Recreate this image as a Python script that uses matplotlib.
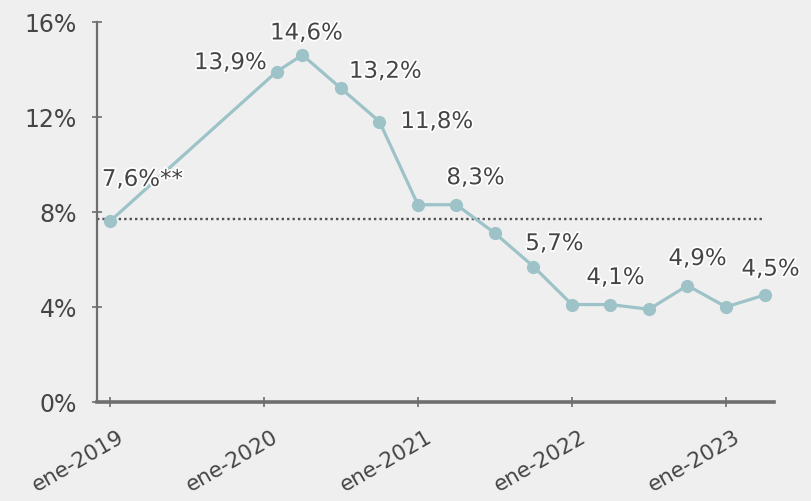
import matplotlib
matplotlib.use("Agg")
import matplotlib.pyplot as plt
import matplotlib.patheffects as pe
from matplotlib.transforms import ScaledTranslation

# months counted from ene-2019
months = [0, 13, 15, 18, 21, 24, 27, 30, 33, 36, 39, 42, 45, 48, 51]
values = [7.6, 13.9, 14.6, 13.2, 11.8, 8.3, 8.3, 7.1, 5.7, 4.1, 4.1, 3.9, 4.9, 4.0, 4.5]
avg_line = 7.7

tick_months = [0, 12, 24, 36, 48]
tick_labels = ["ene-2019", "ene-2020", "ene-2021", "ene-2022", "ene-2023"]
y_ticks = [0, 4, 8, 12, 16]

# which points get a label: index -> (dx px, dy px, ha, suffix)
labelled = {
    0: (-8, 42, "left", "**"),
    1: (-10, 9, "right", ""),
    2: (4, 22, "center", ""),
    3: (8, 17, "left", ""),
    4: (21, 0, "left", ""),
    6: (19, 27, "center", ""),
    8: (21, 23, "center", ""),
    10: (5, 27, "center", ""),
    12: (10, 27, "center", ""),
    14: (6, 26, "center", ""),
}

bg = "#efefef"
line_col = "#9dc3c8"
txt_col = "#454545"
axis_col = "#6e6e6e"

fig = plt.figure(figsize=(8.12, 5.02), dpi=100, facecolor=bg)
ax = fig.add_axes([97 / 812, 1 - 403 / 502, 677 / 812, (403 - 22.7) / 502])
ax.set_facecolor(bg)

ax.plot([-1, 51], [avg_line, avg_line], linestyle=(0, (1, 1.3)), color="#505050", lw=1.7, zorder=2)
ax.plot(months, values, color=line_col, lw=2.3, marker="o", markersize=9.5,
        markeredgewidth=0, zorder=3)

for i, (dx, dy, ha, suf) in labelled.items():
    s = f"{values[i]:.1f}".replace(".", ",") + "%" + suf
    ax.annotate(s, (months[i], values[i]), xytext=(dx, dy), textcoords="offset pixels",
                ha=ha, va="center", fontsize=16.5, color=txt_col, zorder=4,
                path_effects=[pe.withStroke(linewidth=2.5, foreground="white")])

ax.set_xlim(-1, 51.74)
ax.set_ylim(0, 16)
ax.set_yticks(y_ticks)
ax.set_yticklabels([f"{v}%" for v in y_ticks])
ax.set_xticks(tick_months)
ax.set_xticklabels(tick_labels, rotation=30, ha="right", va="top", rotation_mode="anchor")

for s in ["top", "right"]:
    ax.spines[s].set_visible(False)
ax.spines["left"].set_color(axis_col)
ax.spines["left"].set_linewidth(1.6)
ax.spines["bottom"].set_color(axis_col)
ax.spines["bottom"].set_linewidth(2.6)

ax.tick_params(axis="y", direction="inout", length=7, width=1.2, color=axis_col,
               labelsize=17, labelcolor=txt_col, pad=11)
ax.tick_params(axis="x", direction="inout", length=7, width=1.2, color=axis_col,
               labelsize=15.5, labelcolor=txt_col, pad=14)

offset = ScaledTranslation(8 / 100, 0, fig.dpi_scale_trans)
for lbl in ax.get_xticklabels():
    lbl.set_transform(lbl.get_transform() + offset)

fig.savefig("out.png", dpi=100, facecolor=bg)
